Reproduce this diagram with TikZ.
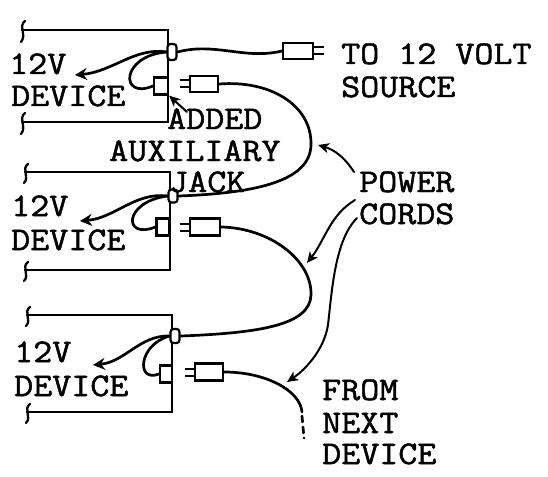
\documentclass[tikz,border=0pt]{standalone}
\usepackage{fontspec}
\newfontfamily\typew{Latin Modern Mono}[FakeBold=1.5,FakeStretch=1.12]
\usetikzlibrary{arrows.meta}
\begin{document}
\begin{tikzpicture}[x=1pt,y=-1pt,
  frame/.style={line width=2.3pt,line cap=round,line join=miter},
  cord/.style={line width=2.7pt,line cap=round},
  pointer/.style={line width=2pt,line cap=round,-{Stealth[length=11pt,width=10pt,inset=3pt]}},
  devarrow/.style={line width=2.7pt,line cap=round,-{Stealth[length=12pt,width=12pt,inset=4pt]}},
  jackr/.style={draw,line width=2.2pt,fill=white,rounded corners=3pt,minimum width=9pt,minimum height=16pt,inner sep=0pt},
  jacks/.style={draw,line width=2.2pt,fill=white,minimum width=14pt,minimum height=17pt,inner sep=0pt},
  plugb/.style={draw,line width=2.4pt,fill=white,minimum width=28pt,minimum height=16pt,inner sep=0pt},
  prong/.style={line width=2pt},
  lab/.style={font=\fontsize{33}{38}\selectfont\typew,anchor=base west,inner sep=0pt},
]
\useasboundingbox (0,0) rectangle (548,476);

% ---------- device frames ----------
\draw[frame] (22,30) -- (168,30) -- (168,122) -- (22,122);
\draw[frame] (25,21) .. controls (18,26) and (27,35) .. (21,42);
\draw[frame] (25,113) .. controls (18,118) and (27,127) .. (21,134);

\draw[frame] (25,172) -- (170,172) -- (170,270) -- (25,270);
\draw[frame] (28,164) .. controls (21,169) and (30,177) .. (24,183);
\draw[frame] (28,262) .. controls (21,267) and (30,275) .. (24,281);

\draw[frame] (27,315) -- (172,315) -- (172,412) -- (27,412);
\draw[frame] (30,307) .. controls (23,312) and (32,320) .. (26,326);
\draw[frame] (30,404) .. controls (23,409) and (32,417) .. (26,423);

% ---------- jacks ----------
\node[jackr] (oj1) at (172,52) {};
\node[jacks] (aj1) at (161,86) {};
\node[jackr,minimum height=13pt] (oj2) at (173,196) {};
\node[jacks,minimum width=13pt] (aj2) at (163,227) {};
\node[jackr,minimum height=14pt] (oj3) at (175,336) {};
\node[jacks,minimum width=12pt] (aj3) at (166,374) {};

% ---------- plugs ----------
\node[plugb,minimum width=30pt] (tp) at (298,51) {};
\draw[prong] ([yshift=3.5pt]tp.east) -- ++(10,0);
\draw[prong] ([yshift=-3.5pt]tp.east) -- ++(10,0);

\node[plugb] (p1) at (204,84) {};
\draw[prong] ([yshift=3.5pt]p1.west) -- ++(-9,0);
\draw[prong] ([yshift=-3.5pt]p1.west) -- ++(-9,0);

\node[plugb,minimum width=30pt,minimum height=17pt] (p2) at (205,227) {};
\draw[prong] ([yshift=3.5pt]p2.west) -- ++(-9,0);
\draw[prong] ([yshift=-3.5pt]p2.west) -- ++(-9,0);

\node[plugb,minimum height=17pt] (p3) at (209,372) {};
\draw[prong] ([yshift=3.5pt]p3.west) -- ++(-9,0);
\draw[prong] ([yshift=-3.5pt]p3.west) -- ++(-9,0);

% ---------- internal leads ----------
\coordinate (t1) at (75,75);
\coordinate (t2) at (80,221);
\coordinate (t3) at (93,365);
\draw[devarrow] (oj1.west) .. controls (135,47) and (112,72) .. (t1);
\draw[cord] (oj1.west) .. controls (120,56) and (120,100) .. (aj1.west);
\draw[devarrow] (oj2.west) .. controls (135,192) and (115,218) .. (t2);
\draw[cord] (oj2.west) .. controls (123,202) and (123,240) .. (aj2.west);
\draw[devarrow] (oj3.west) .. controls (140,335) and (125,362) .. (t3);
\draw[cord] (oj3.west) .. controls (138,345) and (136,383) .. (aj3.west);

% ---------- power cords ----------
\draw[cord] (oj1.east) .. controls (215,42) and (245,60) .. (tp.west);
\draw[cord] (p1.east) .. controls (270,80) and (312,105) .. (311,145)
  .. controls (310,180) and (260,193) .. (oj2.east);
\draw[cord] (p2.east) .. controls (270,228) and (312,260) .. (311,295)
  .. controls (310,325) and (260,333) .. (oj3.east);
\coordinate (loose) at (302,412);
\coordinate (lend) at (304,438);
\draw[cord] (p3.east) .. controls (265,372) and (300,390) .. (loose);
\draw[cord,dash pattern=on 6pt off 5pt] ([yshift=-4pt]loose) -- (lend);

% ---------- labels ----------
\node[lab] (d1a) at (9,74) {12V};
\node[lab] (d1b) at (11,106) {DEVICE};
\node[lab] (d2a) at (11,216) {12V};
\node[lab] (d2b) at (11,250) {DEVICE};
\node[lab] (d3a) at (14,362) {12V};
\node[lab] (d3b) at (14,396) {DEVICE};

\node[lab] (src1) at (341,64) {TO 12 VOLT};
\node[lab] (src2) at (341,97) {SOURCE};

\node[lab] (add1) at (167,129) {ADDED};
\node[lab] (add2) at (109,161) {AUXILIARY};
\node[lab] (add3) at (169,192) {JACK};

\node[lab] (pc1) at (359,192) {POWER};
\node[lab] (pc2) at (359,224) {CORDS};

\node[lab] (fn1) at (322,400) {FROM};
\node[lab] (fn2) at (322,433) {NEXT};
\node[lab] (fn3) at (322,464) {DEVICE};

% ---------- pointers ----------
\coordinate (addtail) at (187,112);
\draw[pointer] (addtail) -- (aj1.south east);
\coordinate (pa) at (354,172);
\coordinate (pb) at (355,200);
\coordinate (pcc) at (357,218);
\coordinate (ta) at (318,145);
\coordinate (tb) at (307,263);
\coordinate (tc) at (287,382);
\draw[pointer] (pa) .. controls (345,158) and (335,150) .. (ta);
\draw[pointer] (pb) .. controls (330,215) and (325,240) .. (tb);
\draw[pointer] (pcc) .. controls (335,240) and (332,290) .. (328,325)
  .. controls (324,350) and (305,370) .. (tc);
\end{tikzpicture}
\end{document}
